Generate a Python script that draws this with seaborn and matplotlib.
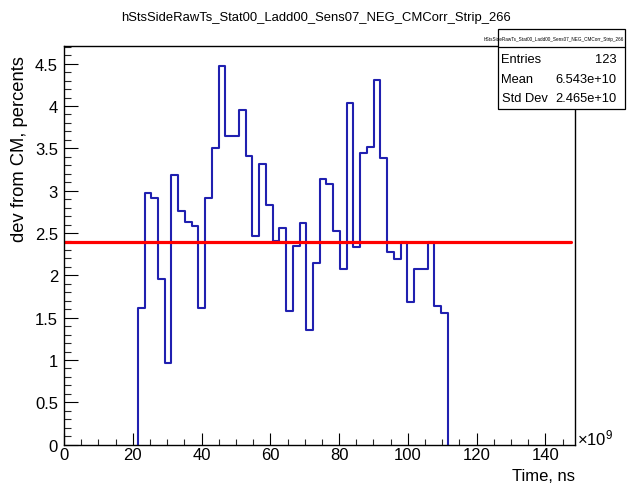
import numpy as np
import pandas as pd
import matplotlib
matplotlib.use("Agg")
import matplotlib.pyplot as plt
import seaborn as sns
from matplotlib.patches import Rectangle
from matplotlib.lines import Line2D

# ---------------- data ----------------
hist_title = "hStsSideRawTs_Stat00_Ladd00_Sens07_NEG_CMCorr_Strip_266"
bin_start = 21.45         # x10^9 ns
bin_width = 1.96          # x10^9 ns
dev_values = [1.62, 2.97, 2.91, 1.96, 0.96, 3.18, 2.76, 2.63, 2.58, 1.62,
              2.91, 3.50, 4.47, 3.65, 3.65, 3.95, 3.41, 2.46, 3.32, 2.83,
              2.40, 2.56, 1.58, 2.35, 2.62, 1.35, 2.14, 3.14, 3.08, 2.52,
              2.07, 4.04, 2.33, 3.45, 3.51, 4.31, 3.38, 2.27, 2.19, 2.39,
              1.69, 2.08, 2.08, 2.39, 1.64, 1.56]
fit_level = 2.39
fit_x = [0.0, 147.5]
x_ticks = [0, 20, 40, 60, 80, 100, 120, 140]
x_tick_labels = ["0", "20", "40", "60", "80", "100", "120", "140"]
y_ticks = [0, 0.5, 1, 1.5, 2, 2.5, 3, 3.5, 4, 4.5]
y_tick_labels = ["0", "0.5", "1", "1.5", "2", "2.5", "3", "3.5", "4", "4.5"]
x_label = "Time, ns"
y_label = "dev from CM, percents"
stats_names = ["Entries", "Mean", "Std Dev"]
stats_values = ["123", "6.543e+10", "2.465e+10"]

# ---------------- style ----------------
sns.set_theme(style="white")
plt.rcParams['font.family'] = ['Liberation Sans', 'DejaVu Sans']
plt.rcParams['mathtext.fontset'] = 'custom'
plt.rcParams['mathtext.rm'] = 'Liberation Sans'
plt.rcParams['mathtext.it'] = 'Liberation Sans'

W, H = 627, 485
fig = plt.figure(figsize=(W / 100, H / 100), dpi=100)
fig.patch.set_facecolor("white")

ax_l, ax_r, ax_t, ax_b = 64.0, 575.0, 47.3, 445.7
ax = fig.add_axes([ax_l / W, 1 - ax_b / H, (ax_r - ax_l) / W, (ax_b - ax_t) / H])
ax.set_facecolor("white")

edges = bin_start + bin_width * np.arange(len(dev_values) + 1)
step_x = np.concatenate([[edges[0]], edges])
step_y = np.concatenate([[0.0], dev_values, [0.0]])
df = pd.DataFrame({"time": step_x, "dev": step_y})

sns.lineplot(data=df, x="time", y="dev", estimator=None, sort=False,
             drawstyle="steps-post", color="#2020b0", linewidth=1.5, ax=ax)
sns.lineplot(x=fit_x, y=[fit_level, fit_level], color="#ff0000",
             linewidth=2.3, ax=ax)

ax.set_xlim(0, 148.6)
ax.set_ylim(0, 4.705)
ax.set_xticks(x_ticks)
ax.set_xticklabels(x_tick_labels)
ax.set_yticks(y_ticks)
ax.set_yticklabels(y_tick_labels)
ax.set_xticks(np.arange(0, 148.6, 5), minor=True)
ax.set_yticks(np.arange(0, 4.705, 0.1), minor=True)

ax.tick_params(axis="x", which="major", direction="in", length=8.5, width=0.8,
               labelsize=12, pad=2, colors="black", bottom=True, top=False)
ax.tick_params(axis="x", which="minor", direction="in", length=4.3, width=0.8,
               bottom=True, top=False)
ax.tick_params(axis="y", which="major", direction="in", length=10, width=0.8,
               labelsize=12, pad=4.3, colors="black", left=True, right=False)
ax.tick_params(axis="y", which="minor", direction="in", length=5, width=0.8,
               left=True, right=False)
for s in ax.spines.values():
    s.set_color("black")
    s.set_linewidth(1.0)

ax.set_xlabel(x_label, loc="right", fontsize=12, labelpad=4, color="black")
ax.set_ylabel(y_label, loc="top", fontsize=13.2, color="black")
ax.yaxis.set_label_coords((28.5 - ax_l) / (ax_r - ax_l),
                          (ax_b - 56) / (ax_b - ax_t))

fig.text(577 / W, 1 - 445 / H, r"$\times10^{9}$", fontsize=12, ha="left",
         va="baseline", color="black")

fig.text(316 / W, 1 - 21 / H, hist_title, fontsize=9.4, ha="center",
         va="baseline", color="black")

# stats box
bx0, bx1, by0, by1, bsep = 498, 625, 30, 110, 48.3
fig.add_artist(Rectangle((bx0 / W, 1 - by1 / H), (bx1 - bx0) / W,
                         (by1 - by0) / H, transform=fig.transFigure,
                         facecolor="white", edgecolor="black",
                         linewidth=0.9, zorder=5))
fig.add_artist(Line2D([bx0 / W, bx1 / W], [1 - bsep / H, 1 - bsep / H],
                      transform=fig.transFigure, color="black",
                      linewidth=0.9, zorder=6))
fig.text(554 / W, 1 - 40 / H, hist_title, fontsize=3.3, ha="center",
         va="center", color="black", zorder=7)
row_base = [63.2, 83.0, 102.2]
for name, val, yb in zip(stats_names, stats_values, row_base):
    fig.text(501.5 / W, 1 - yb / H, name, fontsize=9.3, ha="left",
             va="baseline", color="black", zorder=7)
    fig.text(617 / W, 1 - yb / H, val, fontsize=9.3, ha="right",
             va="baseline", color="black", zorder=7)

fig.savefig("out.png", dpi=100, facecolor="white")
